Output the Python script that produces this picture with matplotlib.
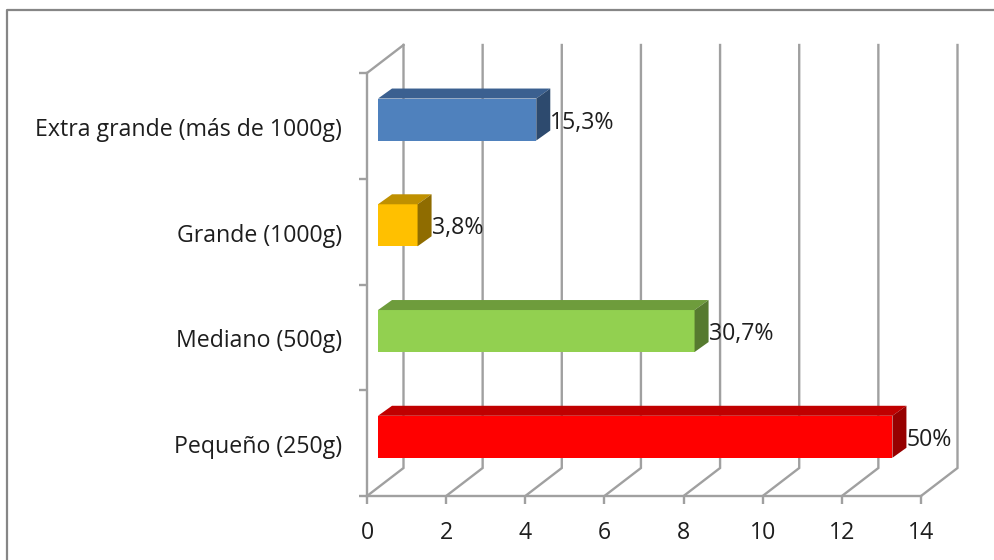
import matplotlib
matplotlib.use("Agg")
import matplotlib.pyplot as plt
from matplotlib.lines import Line2D
from matplotlib.patches import Polygon

# Sizes of package, bottom to top
categories = ["Pequeño (250g)", "Mediano (500g)", "Grande (1000g)", "Extra grande (más de 1000g)"]
counts = [13, 8, 1, 4]
pct_labels = ["50%", "30,7%", "3,8%", "15,3%"]
front_colors = ["#FF0000", "#92D050", "#FFC000", "#4F81BD"]
top_colors = ["#C00000", "#6E9C3C", "#BF9000", "#3B6090"]
side_colors = ["#960000", "#567A2F", "#8F6C00", "#2D4A6E"]
x_ticks = [0, 2, 4, 6, 8, 10, 12, 14]

W, H = 995, 560
GREY = "#A0A0A0"
TEXT = "#1E1E1E"
FONT = "Open Sans"
FS = 16.7
LW = 1.7

fig = plt.figure(figsize=(W / 100, H / 100), dpi=100, facecolor="white")
ax = fig.add_axes([367 / W, (H - 496) / H, 554 / W, 423 / H])
ax.set_xlim(0, 14)
ax.set_ylim(0, 4)
ax.patch.set_visible(False)

# pixels to data units
ux = 14 / 554
uy = 4 / 423

# outer frame (runs off the right and bottom of the image)
fig.add_artist(Line2D([7 / W, 7 / W, 1], [0, 1 - 10 / H, 1 - 10 / H], color="#868686", lw=1.6))

# fake 3D walls: back gridlines and floor diagonals
wall_dx = 36.5 * ux
wall_dy = 28 * uy
for t in x_ticks:
    ax.plot([t, t + wall_dx, t + wall_dx], [0, wall_dy, 4 + wall_dy],
            color=GREY, lw=LW, clip_on=False, zorder=1, solid_joinstyle="miter")
ax.plot([0, wall_dx], [4, 4 + wall_dy], color=GREY, lw=LW, clip_on=False, zorder=1)

for side in ["top", "right"]:
    ax.spines[side].set_visible(False)
for side in ["left", "bottom"]:
    ax.spines[side].set_color(GREY)
    ax.spines[side].set_linewidth(LW)
    ax.spines[side].set_zorder(1.5)

ax.set_xticks(x_ticks)
ax.set_yticks([0, 1, 2, 3, 4])
ax.set_yticklabels([])
ax.tick_params(axis="both", color=GREY, width=LW, length=6)
ax.tick_params(axis="x", labelsize=FS, labelcolor=TEXT, pad=12)
for lab in ax.get_xticklabels():
    lab.set_fontfamily(FONT)

# bars with top and side faces
inset = 11 * ux
bar_h = 42 * uy
bar_dx = 14 * ux
bar_dy = 10 * uy
y_pos = [i + 0.56 for i in range(len(counts))]

ax.barh(y_pos, counts, height=bar_h, left=inset, color=front_colors, zorder=3, clip_on=False)
for i, val in enumerate(counts):
    x0 = inset
    x1 = inset + val
    y0 = y_pos[i] - bar_h / 2
    y1 = y_pos[i] + bar_h / 2
    ax.add_patch(Polygon([(x0, y1), (x1, y1), (x1 + bar_dx, y1 + bar_dy), (x0 + bar_dx, y1 + bar_dy)],
                         facecolor=top_colors[i], edgecolor="none", zorder=3, clip_on=False))
    ax.add_patch(Polygon([(x1, y0), (x1 + bar_dx, y0 + bar_dy), (x1 + bar_dx, y1 + bar_dy), (x1, y1)],
                         facecolor=side_colors[i], edgecolor="none", zorder=3, clip_on=False))
    ax.annotate(pct_labels[i], xy=(x1 + bar_dx, y_pos[i]), xytext=(0, -3), textcoords="offset pixels",
                ha="left", va="center", fontsize=FS, color=TEXT, family=FONT, zorder=4,
                annotation_clip=False)
    ax.annotate(categories[i], xy=(0, i + 0.5), xytext=(-25, -4), textcoords="offset pixels",
                ha="right", va="center", fontsize=FS, color=TEXT, family=FONT,
                annotation_clip=False)

fig.savefig("out.png", dpi=100)
